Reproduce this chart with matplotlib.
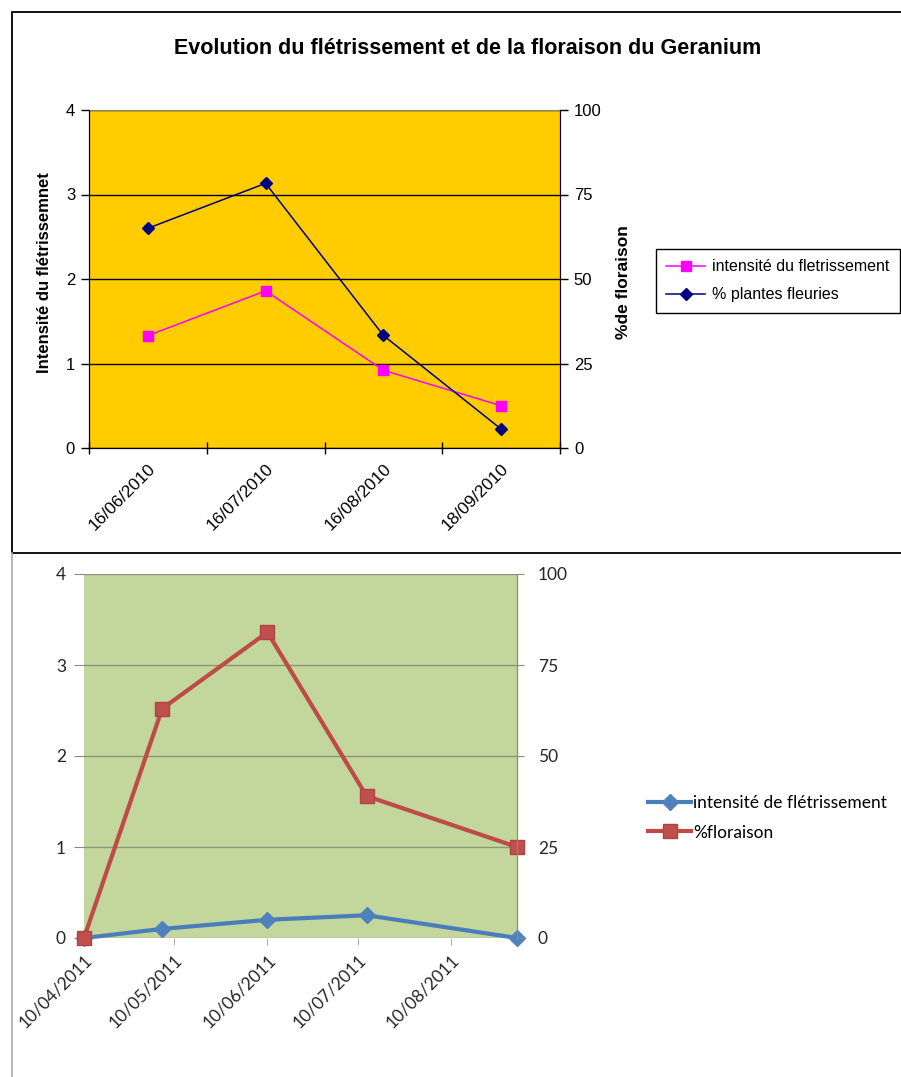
import matplotlib
matplotlib.use("Agg")
import matplotlib.pyplot as plt
import matplotlib.dates as mdates
from matplotlib.patches import Rectangle
from matplotlib.lines import Line2D
import numpy as np
import datetime as dt

# donnees 2010 (graphique du haut)
dates_2010 = ['16/06/2010', '16/07/2010', '16/08/2010', '18/09/2010']
intensite_2010 = [1.33, 1.86, 0.92, 0.5]
fleuries_2010 = [65, 78.3, 33.3, 5.6]

# donnees 2011 (graphique du bas)
dates_2011 = ['2011-04-10', '2011-05-06', '2011-06-10', '2011-07-13', '2011-09-01']
intensite_2011 = [0, 0.1, 0.2, 0.25, 0]
floraison_2011 = [0, 63, 84, 39, 25]
ticks_2011 = ['2011-04-10', '2011-05-10', '2011-06-10', '2011-07-10', '2011-08-10']

W, H = 901, 1077
fig = plt.figure(figsize=(W / 100, H / 100), dpi=100)


def fx(px):
    return px / W


def fy(py):
    return 1 - py / H


# ---------------- graphique du haut ----------------
top_font = 'Liberation Sans'
fig.patches.append(Rectangle((fx(12), fy(553)), fx(905 - 12), (553 - 12) / H,
                             transform=fig.transFigure, fill=False,
                             edgecolor='black', linewidth=1.3))

ax1 = fig.add_axes([fx(89), fy(448), fx(560 - 89), (448 - 110) / H])
ax1.set_facecolor('#ffcc00')
x = np.arange(len(dates_2010))
l1, = ax1.plot(x, intensite_2010, color='#ff00ff', lw=1.1, marker='s',
               markersize=7, label='intensité du fletrissement')
ax1.set_xlim(-0.5, 3.5)
ax1.set_ylim(0, 4)
ax1.set_yticks([0, 1, 2, 3, 4])
ax1.grid(axis='y', color='black', lw=1)
ax1.set_axisbelow(True)
ax1.set_xticks([-0.5, 0.5, 1.5, 2.5, 3.5])
ax1.set_xticklabels([])
ax1.set_xticks(x, minor=True)
ax1.set_xticklabels(dates_2010, minor=True, rotation=45, ha='right', va='top',
                    rotation_mode='anchor', fontsize=12.5, family=top_font)
ax1.tick_params(axis='x', which='major', direction='inout', length=9, width=1)
ax1.tick_params(axis='x', which='minor', length=0, pad=9)
ax1.tick_params(axis='y', direction='out', length=6, width=1, pad=4,
                labelsize=12)
for lab in ax1.get_yticklabels():
    lab.set_family(top_font)
ax1.spines['top'].set_color('#808080')

ax2 = ax1.twinx()
l2, = ax2.plot(x, fleuries_2010, color='#000080', lw=1.1, marker='D',
               markersize=6.5, label='% plantes fleuries')
ax2.set_ylim(0, 100)
ax2.set_yticks([0, 25, 50, 75, 100])
ax2.tick_params(axis='y', direction='out', length=6, width=1, pad=4,
                labelsize=12)
for lab in ax2.get_yticklabels():
    lab.set_family(top_font)
ax2.spines['top'].set_visible(False)

fig.text(fx(468), fy(48), 'Evolution du flétrissement et de la floraison du Geranium',
         ha='center', va='center', fontsize=15.5, fontweight='bold', family=top_font)
fig.text(fx(45), fy(273), 'Intensité du flétrissemnet', rotation=90,
         ha='center', va='center', fontsize=12, fontweight='bold', family=top_font)
fig.text(fx(623), fy(282), '%de floraison', rotation=90,
         ha='center', va='center', fontsize=12.5, fontweight='bold', family=top_font)

leg = fig.legend(handles=[l1, l2], loc='upper left',
                 bbox_to_anchor=(fx(656), fy(249)), bbox_transform=fig.transFigure,
                 frameon=True, fancybox=False, edgecolor='black', framealpha=1,
                 borderaxespad=0, borderpad=0.65, handlelength=2.4,
                 handletextpad=0.45, labelspacing=0.8,
                 prop={'family': top_font, 'size': 11.5})
leg.get_frame().set_linewidth(1.0)

# ---------------- graphique du bas ----------------
bot_font = 'Lato'
fig.lines.append(Line2D([fx(12), fx(12)], [0, fy(553)], transform=fig.transFigure,
                        color='#a8a8a8', lw=1.2))

d11 = [dt.datetime.strptime(d, '%Y-%m-%d') for d in dates_2011]
t11 = [dt.datetime.strptime(d, '%Y-%m-%d') for d in ticks_2011]

ax3 = fig.add_axes([fx(84), fy(938), fx(517 - 84), (938 - 574) / H])
ax3.set_facecolor('#c3d69b')
b1, = ax3.plot(d11, intensite_2011, color='#4a7ebb', lw=3, marker='D',
               markersize=8, markerfacecolor='#4f81bd', markeredgecolor='#4f81bd',
               label='intensité de flétrissement', clip_on=False)
ax3.set_xlim(d11[0], d11[-1])
ax3.set_ylim(0, 4)
ax3.set_yticks([0, 1, 2, 3, 4])
ax3.grid(axis='y', color='#8a9478', lw=1)
ax3.set_axisbelow(True)
ax3.set_xticks(t11)
ax3.xaxis.set_major_formatter(mdates.DateFormatter('%d/%m/%Y'))
for s in ['left', 'top', 'bottom']:
    ax3.spines[s].set_visible(False)
ax3.spines['right'].set_color('#8a8a8a')
ax3.tick_params(axis='x', direction='out', length=5, color='#b0b0b0', pad=5,
                labelsize=12.5, labelcolor='#262626')
ax3.tick_params(axis='y', direction='out', length=7, color='#8a8a8a', pad=6,
                labelsize=12.5, labelcolor='#262626')
for lab in ax3.get_xticklabels():
    lab.set_rotation(45)
    lab.set_ha('right')
    lab.set_va('top')
    lab.set_rotation_mode('anchor')
    lab.set_family(bot_font)
for lab in ax3.get_yticklabels():
    lab.set_family(bot_font)

ax4 = ax3.twinx()
b2, = ax4.plot(d11, floraison_2011, color='#be4b48', lw=3, marker='s',
               markersize=10, markerfacecolor='#c0504d', markeredgecolor='#b04540',
               label='%floraison', clip_on=False)
ax4.set_ylim(0, 100)
ax4.set_yticks([0, 25, 50, 75, 100])
for s in ['left', 'top', 'bottom']:
    ax4.spines[s].set_visible(False)
ax4.spines['right'].set_color('#8a8a8a')
ax4.tick_params(axis='y', direction='out', length=5, color='#8a8a8a', pad=10,
                labelsize=12.5, labelcolor='#262626')
for lab in ax4.get_yticklabels():
    lab.set_family(bot_font)

fig.legend(handles=[b1, b2], loc='center left',
           bbox_to_anchor=(fx(648), fy(818)), bbox_transform=fig.transFigure,
           frameon=False, borderaxespad=0, borderpad=0, handlelength=2.5,
           handletextpad=0.1, labelspacing=0.75,
           prop={'family': bot_font, 'size': 12.5})

fig.savefig('out.png', dpi=100, facecolor='white')
